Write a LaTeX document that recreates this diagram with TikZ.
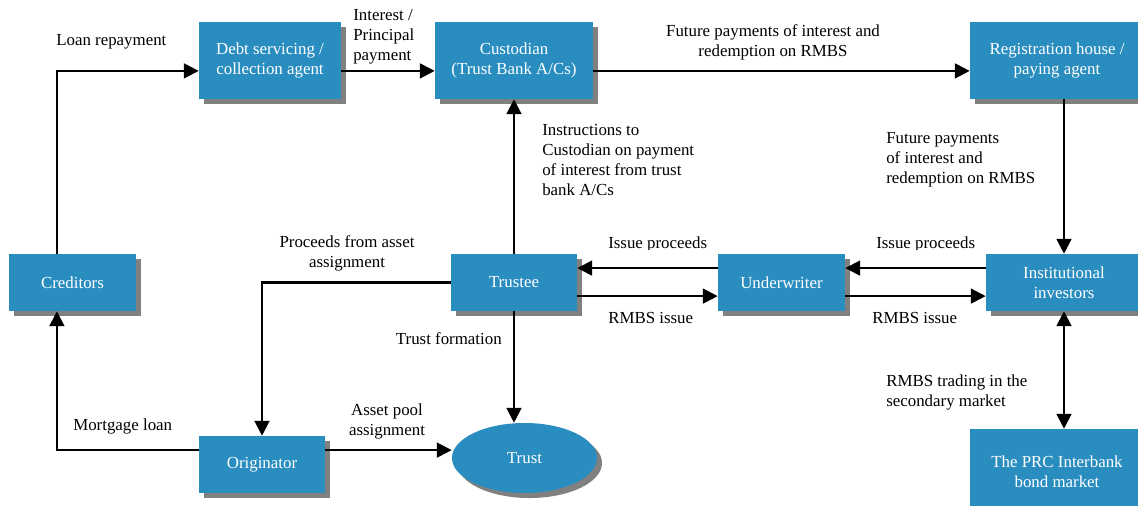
\documentclass[tikz,border=0pt]{standalone}
\usepackage{fontspec}
\setmainfont{Liberation Serif}
\usetikzlibrary{arrows.meta,shapes.geometric,shadows,calc}
\definecolor{boxblue}{RGB}{42,141,192}
\definecolor{shadowgray}{RGB}{128,128,128}
\tikzstyle{bluebox}=[rectangle, fill=boxblue, text=white, align=center, inner sep=0pt, drop shadow={shadow xshift=0.125cm, shadow yshift=-0.125cm, fill=shadowgray, opacity=1}]
\tikzstyle{flow}=[line width=1.5pt, -{Triangle[length=0.37cm,width=0.37cm]}]
\tikzstyle{lbl}=[inner sep=0pt, align=left]
\newcommand{\up}{0.36cm}   % arrow above box centre
\newcommand{\dn}{0.34cm}   % arrow below box centre

\begin{document}
\begin{tikzpicture}[x=0.025cm, y=-0.025cm, font=\fontsize{12}{14.2}\selectfont]
	\clip (0,0) rectangle (1138,506);
	% top row
	\node[bluebox, minimum width=3.55cm, minimum height=1.925cm] (debt) at (270,60.5) {Debt servicing /\\collection agent};
	\node[bluebox, minimum width=3.95cm, minimum height=1.925cm] (cust) at (514,60.5) {Custodian\\(Trust Bank A/Cs)};
	\node[bluebox, minimum width=4.35cm, minimum height=1.925cm] (reg) at (1057,60.5) {Registration house /\\paying agent};
	% middle row
	\node[bluebox, minimum width=3.175cm, minimum height=1.425cm] (cred) at (72.5,282.5) {Creditors};
	\node[bluebox, minimum width=3.15cm, minimum height=1.425cm] (trustee) at (514,282.5) {Trustee};
	\node[bluebox, minimum width=3.175cm, minimum height=1.425cm] (under) at (781.5,282.5) {Underwriter};
	\node[bluebox, minimum width=3.9cm, minimum height=1.425cm] (inst) at (1064,282.5) {Institutional\\investors};
	% bottom row
	\node[bluebox, minimum width=3.15cm, minimum height=1.425cm] (orig) at (262,464.5) {Originator};
	\node[bluebox, ellipse, minimum width=3.625cm, minimum height=1.75cm] (trust) at (524.5,458) {Trust};
	\node[bluebox, minimum width=4.35cm, minimum height=2.15cm] (prc) at (1057,472) {The PRC Interbank\\bond market};

	% connectors
	\draw[flow] ([xshift=-0.39cm]cred.north) |- ([yshift=-0.26cm]debt.west);
	\draw[flow] ([yshift=-0.26cm]debt.east) -- ([yshift=-0.26cm]cust.west);
	\draw[flow] ([yshift=-0.26cm]cust.east) -- ([yshift=-0.26cm]reg.west);
	\draw[flow] (reg.south -| inst.north) -- (inst.north);
	\draw[flow] (trustee.north) -- (cust.south);
	\draw[flow] ([yshift=\up]inst.west) -- ([yshift=\up]under.east);
	\draw[flow] ([yshift=\up]under.west) -- ([yshift=\up]trustee.east);
	\draw[flow] ([yshift=-\dn]trustee.east) -- ([yshift=-\dn]under.west);
	\draw[flow] ([yshift=-\dn]under.east) -- ([yshift=-\dn]inst.west);
	\draw[flow, {Triangle[length=0.37cm,width=0.37cm]}-{Triangle[length=0.37cm,width=0.37cm]}] (inst.south) -- (inst.south |- prc.north);
	\draw[flow] (trustee.west) -| (orig.north);
	\draw[flow] (trustee.south) -- (trustee.south |- trust.north);
	\draw[flow] ([yshift=\up]orig.east) -- ([yshift=\up]orig.east -| trust.west);
	\draw[flow] ([yshift=\up]orig.west) -| ([xshift=-0.39cm]cred.south);

	% labels
	\node[lbl, anchor=west] (lblloan) at (56,42) {Loan repayment};
	\node[lbl, anchor=west] (lblint) at (353,37) {Interest /\\Principal\\payment};
	\node[lbl, anchor=center, align=center] (lblfut) at (773,42) {Future payments of interest and\\redemption on RMBS};
	\node[lbl, anchor=west] (lblinstr) at (542,160) {Instructions to\\Custodian on payment\\of interest from trust\\bank A/Cs};
	\node[lbl, anchor=west] (lblfutb) at (886,160) {Future payments\\of interest and\\redemption on RMBS};
	\node[lbl, anchor=center, align=center] (lblproc) at (347,253) {Proceeds from asset\\assignment};
	\begin{scope}
		\clip (0,0) rectangle (1138,249);
		\node[lbl, anchor=base west] (lblissa) at (608,248.5) {Issue proceeds};
		\node[lbl, anchor=base west] (lblissb) at (876,248.5) {Issue proceeds};
	\end{scope}
	\node[lbl, anchor=west] (lblrmbsa) at (608,318) {RMBS issue};
	\node[lbl, anchor=west] (lblrmbsb) at (872,318) {RMBS issue};
	\node[lbl, anchor=east] (lblform) at (502,339) {Trust formation};
	\node[lbl, anchor=west] (lblmort) at (73,426) {Mortgage loan};
	\node[lbl, anchor=center, align=center] (lblpool) at (387,421) {Asset pool\\assignment};
	\node[lbl, anchor=west] (lbltrade) at (886,392) {RMBS trading in the\\secondary market};
\end{tikzpicture}
\end{document}
